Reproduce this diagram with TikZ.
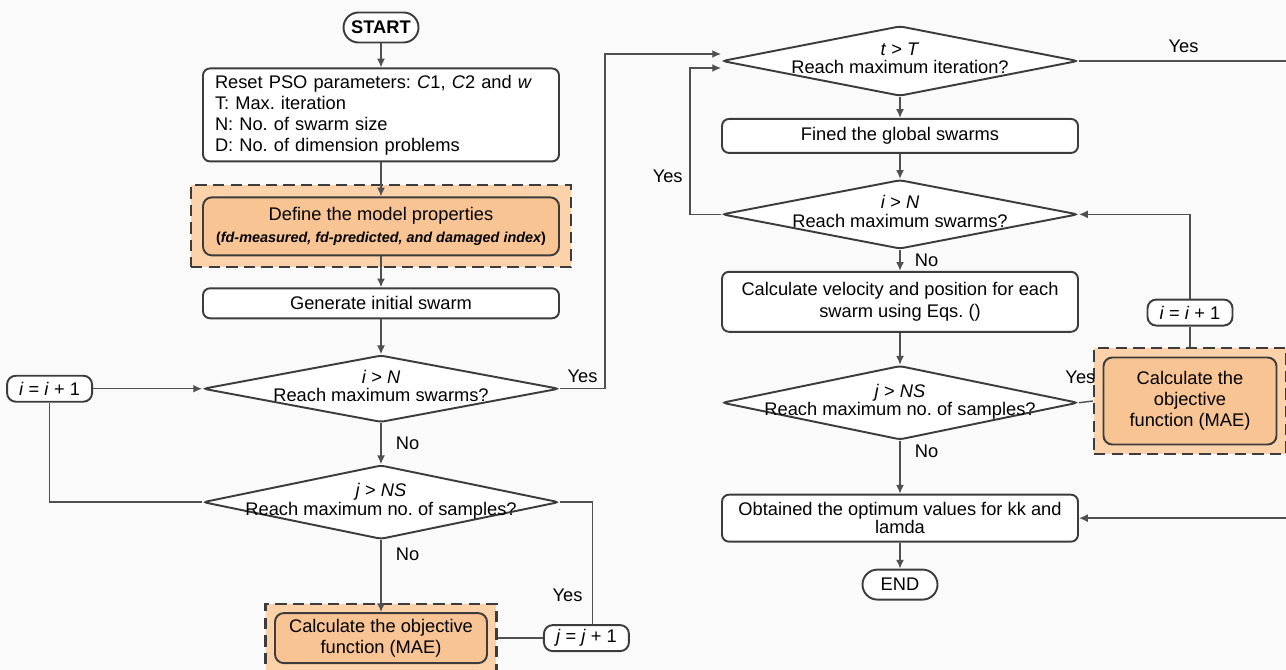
\documentclass[tikz,border=0pt]{standalone}
\usepackage{fontspec}
\setmainfont{Liberation Sans}
\usetikzlibrary{arrows.meta, positioning, shapes.geometric, calc, fit, backgrounds}
\frenchspacing

\definecolor{boxline}{RGB}{60,60,60}
\definecolor{linecol}{RGB}{80,80,80}
\definecolor{hiOuter}{RGB}{251,210,170}
\definecolor{hiInner}{RGB}{249,196,148}
\definecolor{bgcol}{RGB}{250,250,250}

\newcommand{\fsize}{\fontsize{10.4}{12}\selectfont}
\newcommand{\fsmall}{\fontsize{8.2}{10}\selectfont}
\newcommand{\decisiontext}[2]{\makebox[0pt]{\renewcommand{\arraystretch}{0.85}%
  \begin{tabular}{@{}c@{}}#1\\#2\end{tabular}}}

\begin{document}
\begin{tikzpicture}[>={Latex[length=5pt,width=4.5pt]}, node distance=0.5cm, font=\fsize,
    procbox/.style={draw=boxline, line width=1.1pt, rounded corners=4pt, fill=white,
                    minimum width=7.12cm, align=center, inner sep=2pt},
    termbox/.style={draw=boxline, line width=1.1pt, rounded corners=0.3cm, fill=white,
                    minimum width=1.5cm, minimum height=0.6cm, inner sep=1pt},
    countbox/.style={draw=boxline, line width=1.1pt, rounded corners=5pt, fill=white,
                     minimum width=1.7cm, minimum height=0.52cm, inner sep=1pt},
    decision/.style={diamond, draw=boxline, line width=1.1pt, fill=white,
                     rounded corners=2pt, minimum width=7.12cm, inner sep=0pt},
    objbox/.style={draw=boxline, line width=1.1pt, rounded corners=5pt, fill=hiInner,
                   align=center, inner sep=2pt},
    hilite/.style={draw=boxline, line width=1.2pt, dash pattern=on 6.5pt off 3.5pt,
                   fill=hiOuter},
    link/.style={draw=linecol, line width=0.8pt},
    flow/.style={link, ->},
    tag/.style={inner sep=1pt}]
  \useasboundingbox (0,0) rectangle (25.72,-13.4);
  \coordinate (edge) at (25.76,0);

  % left column
  \node[termbox, font=\fsize\bfseries] (start) at (7.62,-0.55) {START};
  \node[procbox, below=0.48cm of start, minimum height=1.86cm,
        text width=6.64cm, align=left] (reset)
    {Reset PSO parameters: \textit{C}1, \textit{C}2 and \textit{w}\\
     T: Max. iteration\\ N: No. of swarm size\\ D: No. of dimension problems};
  \node[objbox, below=0.68cm of reset, minimum width=7.12cm, minimum height=1.16cm] (model)
    {Define the model properties\\
     {\fsmall\bfseries\upshape(\itshape fd-measured, fd-predicted, and damaged index\upshape)}};
  \node[procbox, below=0.62cm of model, minimum height=0.6cm] (gen) {Generate initial swarm};
  \node[decision, below=0.7cm of gen, minimum height=1.34cm] (dia1)
    {\decisiontext{\textit{i} > \textit{N}}{Reach maximum swarms?}};
  \node[decision, below=0.82cm of dia1, minimum height=1.48cm] (dia2)
    {\decisiontext{\textit{j} > \textit{NS}}{Reach maximum no. of samples?}};
  \node[objbox, below=1.44cm of dia2, minimum width=4.24cm, minimum height=1.0cm] (calc)
    {Calculate the objective\\function (MAE)};
  \node[countbox, right=1.1cm of calc] (jinc) {\textit{j} = \textit{j} + 1};
  \node[countbox, left=2.18cm of dia1] (iinc) {\textit{i} = \textit{i} + 1};

  % right column
  \node[decision, minimum height=1.4cm] (dia3) at (18.0,-1.22)
    {\decisiontext{\textit{t} > \textit{T}}{Reach maximum iteration?}};
  \node[procbox, below=0.42cm of dia3, minimum height=0.68cm] (glob) {Fined the global swarms};
  \node[decision, below=0.5cm of glob, minimum height=1.38cm] (dia4)
    {\decisiontext{\textit{i} > \textit{N}}{Reach maximum swarms?}};
  \node[procbox, below=0.42cm of dia4, minimum height=1.2cm] (vel)
    {Calculate velocity and position for each\\swarm using Eqs. ()};
  \node[decision, below=0.64cm of vel, minimum height=1.48cm] (dia5)
    {\decisiontext{\textit{j} > \textit{NS}}{Reach maximum no. of samples?}};
  \node[objbox, minimum width=3.46cm, minimum height=1.74cm] (calcR) at (23.8,-8.02)
    {Calculate the\\objective\\function (MAE)};
  \node[countbox, above=0.6cm of calcR] (iincR) {\textit{i} = \textit{i} + 1};
  \node[procbox, below=1.06cm of dia5, minimum height=0.94cm] (opt)
    {Obtained the optimum values for kk and\\[-2pt]lamda};
  \node[termbox, below=0.52cm of opt] (stop) {END};

  % dashed highlight frames
  \begin{scope}[on background layer]
    \fill[bgcol] (0,0) rectangle (25.72,-13.4);
    \node[hilite, fit=(model), inner sep=0.22cm] (modelO) {};
    \node[hilite, fit=(calc), inner sep=0.17cm] (calcO) {};
    \node[hilite, fit=(calcR), inner sep=0.17cm] (calcRO) {};
  \end{scope}

  % connectors, left
  \draw[flow] (start) -- (reset);
  \draw[flow] (reset) -- (model);
  \draw[flow] (model) -- (gen);
  \draw[flow] (gen) -- (dia1);
  \draw[flow] (dia1) -- node[tag, right=0.25cm] {No} (dia2);
  \draw[flow] (dia2) -- node[tag, right=0.25cm, pos=0.2] {No} (calc);
  \draw[link] (calcO.east) -- (jinc.west);
  \draw[link] ([xshift=0.12cm]jinc.north) |- node[tag, left=0.15cm, pos=0.12] {Yes} (dia2.east);
  \draw[link] (dia2.west) -| (iinc.south);
  \draw[flow] (iinc) -- (dia1);
  \draw[flow] (dia1.east) -- node[tag, above=2pt] {Yes} ++(0.9,0)
    |- ([yshift=0.14cm]dia3.west);

  % connectors, right
  \draw[flow] (dia3) -- (glob);
  \draw[flow] (glob) -- (dia4);
  \draw[flow] (dia4) -- node[tag, right=0.25cm] {No} (vel);
  \draw[flow] (dia4.west) -- ++(-0.62,0)
    |- node[tag, left=0.1cm, pos=0.13] {Yes} ([yshift=-0.14cm]dia3.west);
  \draw[flow] (vel) -- (dia5);
  \draw[flow] (dia5) -- node[tag, right=0.25cm, pos=0.2] {No} (opt);
  \draw[link] (dia5.east) -- node[tag, above=0.32cm, pos=0.1] {Yes} (calcRO.west);
  \draw[link] (calcRO.north) -- (iincR.south);
  \draw[flow] (iincR.north) |- (dia4.east);
  \draw[flow] (dia3.east) -- node[tag, above=0.12cm] {Yes} (dia3.east -| edge) |- (opt.east);
  \draw[flow] (opt) -- (stop);
\end{tikzpicture}
\end{document}
